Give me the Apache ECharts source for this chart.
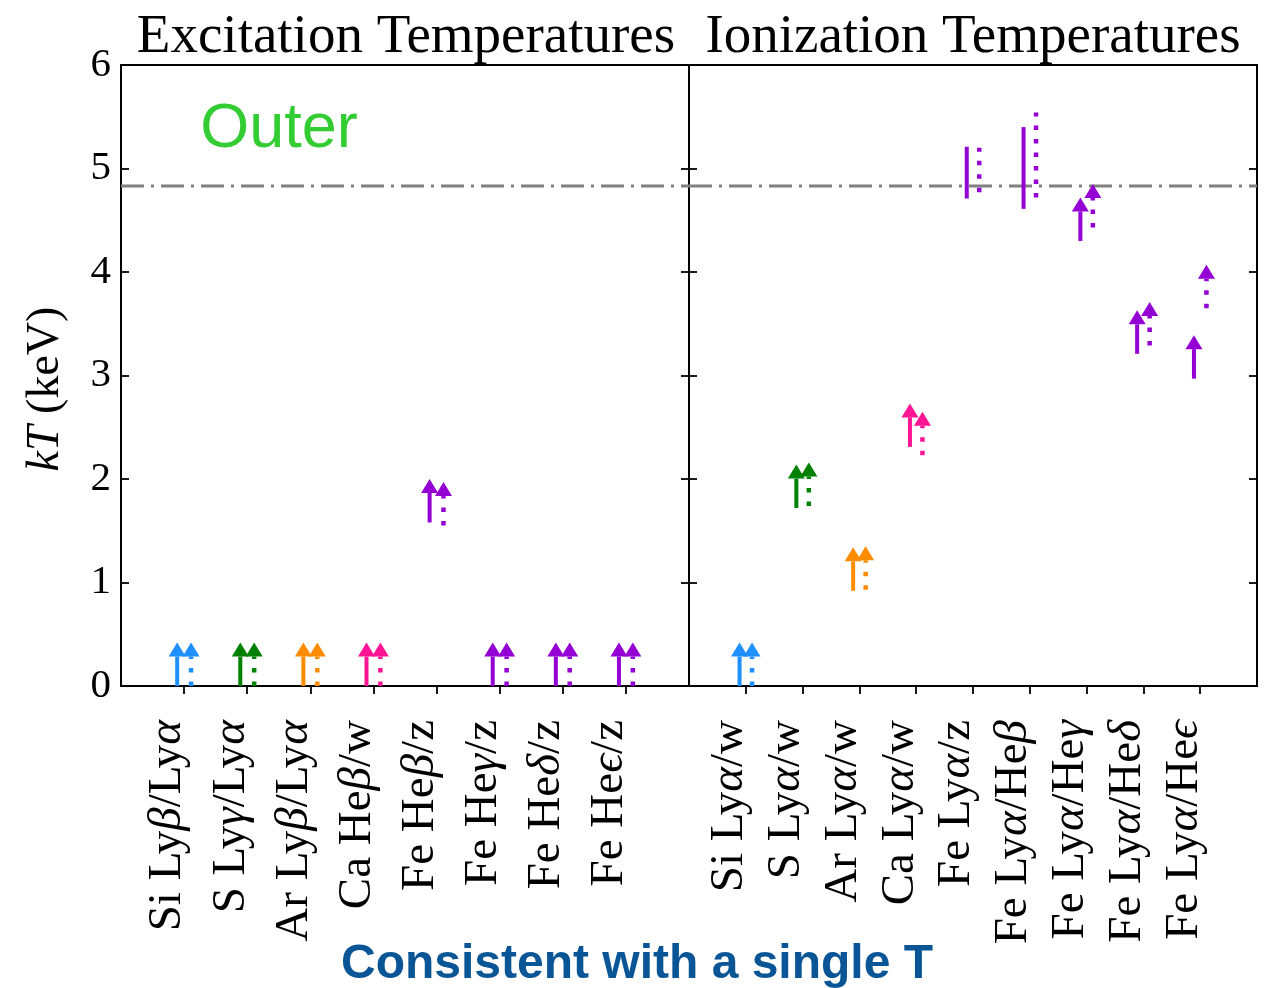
<!DOCTYPE html>
<html>
<head>
<meta charset="utf-8">
<script src="https://cdn.jsdelivr.net/npm/echarts@6/dist/echarts.min.js"></script>
<style>
  html, body { margin: 0; padding: 0; background: #fff; }
  #chart { width: 1276px; height: 988px; }
</style>
</head>
<body>
<div id="chart"></div>
<script>
// ---- Data -------------------------------------------------------------
// Excitation-temperature line ratios (left panel)
const exciteLabels = ['Si Lyβ/Lyα', 'S Lyγ/Lyα', 'Ar Lyβ/Lyα', 'Ca Heβ/w',
                      'Fe Heβ/z', 'Fe Heγ/z', 'Fe Heδ/z', 'Fe Heϵ/z'];
const exciteColors = ['#1e90ff', '#008000', '#ff8c00', '#ff1493',
                      '#9400d3', '#9400d3', '#9400d3', '#9400d3'];
// lower limits (keV); solid and dotted estimates
const exciteSolid  = [0, 0, 0, 0, 1.58, 0, 0, 0];
const exciteDotted = [0, 0, 0, 0, 1.55, 0, 0, 0];

// Ionization-temperature line ratios (right panel)
const ionLabels = ['Si Lyα/w', 'S Lyα/w', 'Ar Lyα/w', 'Ca Lyα/w', 'Fe Lyα/z',
                   'Fe Lyα/Heβ', 'Fe Lyα/Heγ', 'Fe Lyα/Heδ', 'Fe Lyα/Heϵ'];
const ionColors = ['#1e90ff', '#008000', '#ff8c00', '#ff1493', '#9400d3',
                   '#9400d3', '#9400d3', '#9400d3', '#9400d3'];
// lower bound of each measurement; upper bound is null for lower limits
const ionSolidLo  = [0, 1.72, 0.92, 2.31, 4.71, 4.61, 4.30, 3.21, 2.97];
const ionSolidHi  = [null, null, null, null, 5.21, 5.40, null, null, null];
const ionDottedLo = [0, 1.74, 0.93, 2.23, 4.77, 4.72, 4.43, 3.29, 3.65];
const ionDottedHi = [null, null, null, null, 5.20, 5.54, null, null, null];

// single-temperature reference level (keV)
const singleT = 4.83;
const yTicks = [0, 1, 2, 3, 4, 5, 6];

// ---- Styling helpers --------------------------------------------------
const SERIF = '"Liberation Serif", "DejaVu Serif", serif';
const ARROW_LEN = 0.42;   // length of a lower-limit arrow, keV
const OFFSET = 0.11;      // horizontal shift of solid / dotted marks
const XLAB_SIZE = 47;
const XLAB_LINE = 32;

function greekRich(s) {
  return s.replace(/([αβγδϵ])/g, '{g|$1}');
}

function markSeries(gridIdx, lo, hi, colors, dx, dotted) {
  const data = lo.map((v, i) => ({
    value: [i + 1 + dx, v, hi ? (hi[i] == null ? NaN : hi[i]) : NaN],
    itemStyle: { color: colors[i] }
  }));
  return {
    type: 'custom',
    xAxisIndex: gridIdx, yAxisIndex: gridIdx * 2,
    data: data,
    z: 5,
    clip: false,
    encode: { x: 0, y: 1 },
    renderItem: function (params, api) {
      const x = api.value(0), yLo = api.value(1), yHi = api.value(2);
      const color = api.visual('color');
      const shaft = {
        stroke: color,
        lineWidth: dotted ? 4.5 : 4,
        lineCap: 'butt',
        lineDash: dotted ? [4.5, 9] : null
      };
      const base = api.coord([x, yLo]);
      if (!isNaN(yHi)) {
        const top = api.coord([x, yHi]);
        return {
          type: 'line',
          shape: { x1: base[0], y1: base[1], x2: top[0], y2: top[1] },
          style: shaft
        };
      }
      const tip = api.coord([x, yLo + ARROW_LEN]);
      const headH = 14, headW = 8.5;
      return {
        type: 'group',
        children: [
          {
            type: 'line',
            shape: { x1: base[0], y1: base[1], x2: tip[0], y2: tip[1] + headH },
            style: shaft
          },
          {
            type: 'polygon',
            shape: { points: [[tip[0], tip[1]], [tip[0] - headW, tip[1] + headH],
                              [tip[0] + headW, tip[1] + headH]] },
            style: { fill: color }
          }
        ]
      };
    }
  };
}

function refLine(gridIdx, xmax) {
  return {
    type: 'line',
    xAxisIndex: gridIdx, yAxisIndex: gridIdx * 2,
    data: [[0, singleT], [xmax, singleT]],
    symbol: 'none',
    silent: true,
    z: 3,
    lineStyle: { color: '#808080', width: 3, type: [23, 7, 3, 7] }
  };
}

function xAxisFor(gridIdx, labels) {
  const pos = labels.map((_, i) => i + 1);
  return {
    gridIndex: gridIdx,
    type: 'value',
    min: 0, max: labels.length + 1, interval: 1,
    position: 'bottom',
    axisLine: { show: false },
    splitLine: { show: false },
    axisTick: {
      show: true, inside: false, length: 8, customValues: pos,
      lineStyle: { color: '#000', width: 1.8 }
    },
    axisLabel: {
      show: true, customValues: pos, rotate: 90, margin: 34,
      verticalAlign: 'bottom', lineHeight: XLAB_LINE,
      color: '#000', fontFamily: SERIF, fontSize: XLAB_SIZE,
      formatter: v => greekRich(labels[Math.round(v) - 1] || ''),
      rich: { g: { fontFamily: SERIF, fontSize: XLAB_SIZE, fontStyle: 'italic', color: '#000',
                   lineHeight: XLAB_LINE } }
    }
  };
}

function yAxisFor(gridIdx, position, showLabels) {
  return {
    gridIndex: gridIdx,
    type: 'value',
    min: 0, max: 6, interval: 1,
    position: position,
    axisLine: { show: false },
    splitLine: { show: false },
    axisTick: { show: true, inside: true, length: 8, lineStyle: { color: '#000', width: 1.8 } },
    axisLabel: {
      show: showLabels, margin: 10, color: '#000', fontFamily: SERIF, fontSize: 41,
      formatter: v => (yTicks.indexOf(v) >= 0 ? String(v) : '')
    }
  };
}

const chart = echarts.init(document.getElementById('chart'), null, { renderer: 'canvas' });

const option = {
  animation: false,
  backgroundColor: '#fff',
  grid: [
    { left: 121, top: 65, width: 568, height: 621, show: true,
      borderColor: '#000', borderWidth: 2, backgroundColor: 'transparent' },
    { left: 689, top: 65, width: 568, height: 621, show: true,
      borderColor: '#000', borderWidth: 2, backgroundColor: 'transparent' }
  ],
  xAxis: [xAxisFor(0, exciteLabels), xAxisFor(1, ionLabels)],
  yAxis: [
    yAxisFor(0, 'left', true), yAxisFor(0, 'right', false),
    yAxisFor(1, 'left', false), yAxisFor(1, 'right', false)
  ],
  series: [
    refLine(0, 9), refLine(1, 10),
    markSeries(0, exciteSolid, null, exciteColors, -OFFSET, false),
    markSeries(0, exciteDotted, null, exciteColors, OFFSET, true),
    markSeries(1, ionSolidLo, ionSolidHi, ionColors, -OFFSET, false),
    markSeries(1, ionDottedLo, ionDottedHi, ionColors, OFFSET, true)
  ],
  graphic: [
    { type: 'text', x: 406, y: 38, z: 10,
      style: { text: 'Excitation Temperatures', font: '55px ' + SERIF, fill: '#000',
               textAlign: 'center', textVerticalAlign: 'middle', align: 'center', verticalAlign: 'middle' } },
    { type: 'text', x: 973, y: 38, z: 10,
      style: { text: 'Ionization Temperatures', font: '55px ' + SERIF, fill: '#000',
               textAlign: 'center', textVerticalAlign: 'middle', align: 'center', verticalAlign: 'middle' } },
    { type: 'text', x: 279, y: 130, z: 10,
      style: { text: 'Outer', font: '63px "Liberation Sans", Arial, sans-serif', fill: '#33cc33',
               textAlign: 'center', textVerticalAlign: 'middle', align: 'center', verticalAlign: 'middle' } },
    { type: 'text', x: 46, y: 389, rotation: Math.PI / 2, z: 10,
      style: {
        text: '{i|kT} (keV)', font: '46px ' + SERIF, fill: '#000',
        textAlign: 'center', textVerticalAlign: 'middle', align: 'center', verticalAlign: 'middle',
        rich: { i: { fontStyle: 'italic', fontFamily: SERIF, fontSize: 46, fill: '#000', color: '#000' } }
      } },
    { type: 'text', x: 637, y: 965, z: 10,
      style: { text: 'Consistent with a single T', font: 'bold 48px "Liberation Sans", Arial, sans-serif',
               fill: '#0a5595', textAlign: 'center', textVerticalAlign: 'middle',
               align: 'center', verticalAlign: 'middle' } }
  ]
};

chart.setOption(option);
</script>
</body>
</html>
